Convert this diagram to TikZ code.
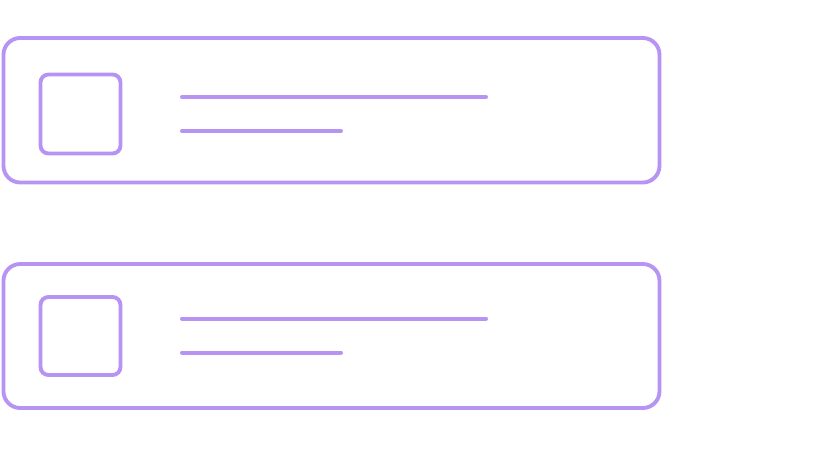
\documentclass[tikz,border=0pt]{standalone}
\definecolor{lav}{HTML}{B794F4}
\begin{document}
\begin{tikzpicture}[x=0.75pt,y=-0.75pt,
  card/.style={draw=lav,line width=2.9pt,rounded corners=12.5pt},
  icon/.style={draw=lav,line width=2.9pt,rounded corners=6pt},
  bar/.style={draw=lav,line width=3pt,line cap=round}]
\useasboundingbox (0,0) rectangle (815,460);
% card 1
\draw[card] (3.5,38) rectangle (659.5,182.5);
\draw[icon] (40.5,74.5) rectangle (120.5,153.5);
\draw[bar] (182,97) -- (486,97);
\draw[bar] (182,131) -- (341,131);
% card 2
\draw[card] (3.5,264) rectangle (659.5,408);
\draw[icon] (40.5,297) rectangle (120.5,375);
\draw[bar] (182,318.5) -- (486,318.5);
\draw[bar] (182,352.5) -- (341,352.5);
\end{tikzpicture}
\end{document}
